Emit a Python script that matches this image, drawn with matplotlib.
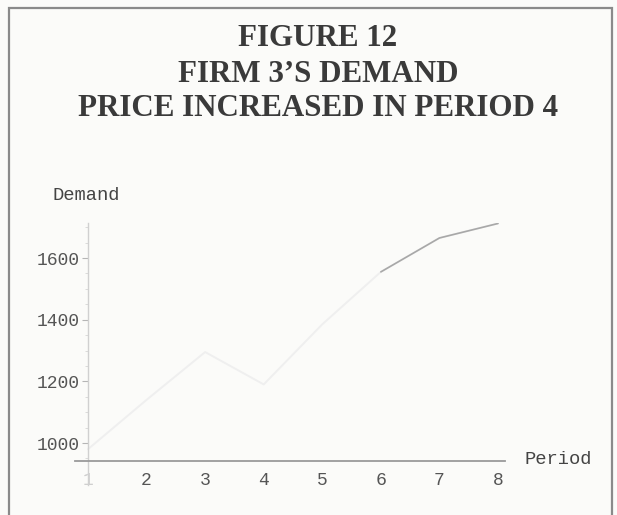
import matplotlib
matplotlib.use("Agg")
import matplotlib.pyplot as plt
from matplotlib.patches import Rectangle
from matplotlib.ticker import MultipleLocator

periods = [1, 2, 3, 4, 5, 6, 7, 8]
demand = [980, 1140, 1295, 1190, 1385, 1555, 1665, 1712]
x_ticks = [1, 2, 3, 4, 5, 6, 7, 8]
x_tick_labels = ["1", "2", "3", "4", "5", "6", "7", "8"]
y_ticks = [1000, 1200, 1400, 1600]
y_tick_labels = ["1000", "1200", "1400", "1600"]
title_lines = ["FIGURE 12", "FIRM 3\u2019S DEMAND", "PRICE INCREASED IN PERIOD 4"]

W, H = 617, 515
fig = plt.figure(figsize=(W / 100, H / 100), dpi=100)
fig.patch.set_facecolor("#fbfbf9")

# page border
fig.patches.append(Rectangle((9 / W, -0.05), (612 - 9) / W, (H - 8) / H + 0.05,
                             transform=fig.transFigure, fill=False,
                             edgecolor="#8a8a8a", linewidth=1.6))

# title
serif = ["Liberation Serif", "DejaVu Serif"]
ys = [39, 74, 108]
for t, yy in zip(title_lines, ys):
    fig.text(318 / W, 1 - yy / H, t, ha="center", va="center",
             family=serif, fontweight="bold", fontsize=22.3, color="#3a3a3a")

# axes: left pixel 75, right 505; bottom 485, top 223
ax = fig.add_axes([75 / W, (H - 485) / H, (505 - 75) / W, (485 - 223) / H])
ax.set_facecolor("none")
ppx = 58.57
ax.set_xlim(1 - 13 / ppx, 1 + (505 - 88) / ppx)
ppy = 0.3083
ax.set_ylim(1000 - (485 - 443) / ppy, 1000 + (443 - 223) / ppy)
x_axis_val = 1000 - (461 - 443) / ppy

for s in ["top", "right"]:
    ax.spines[s].set_visible(False)
ax.spines["left"].set_position(("data", 1))
ax.spines["bottom"].set_position(("data", x_axis_val))
ax.spines["left"].set_color("#d0d0d0")
ax.spines["bottom"].set_color("#9a9a9a")
ax.spines["left"].set_linewidth(1.0)
ax.spines["bottom"].set_linewidth(1.3)

mono = ["Liberation Mono", "DejaVu Sans Mono"]
ax.set_xticks(x_ticks)
ax.set_xticklabels(x_tick_labels, family=mono, fontsize=13, color="#555555")
ax.get_xticklabels()[0].set_color("#cfcfcf")
ax.set_yticks(y_ticks)
ax.set_yticklabels(y_tick_labels, family=mono, fontsize=13, color="#555555")
ax.yaxis.set_minor_locator(MultipleLocator(50))
ax.tick_params(axis="x", length=0, pad=8)
ax.tick_params(axis="y", which="major", length=4, color="#b5b5b5", pad=2)
ax.tick_params(axis="y", which="minor", length=2, color="#d5d5d5")

# line: faint overall, darker where the print is visible
ax.plot(periods, demand, color="#efefef", linewidth=1.4, solid_capstyle="round")
ax.plot(periods[5:], demand[5:], color="#a8a8a8", linewidth=1.2, solid_capstyle="round")

fig.text(52 / W, 1 - 195 / H, "Demand", family=mono, fontsize=13.5, color="#444444",
         ha="left", va="center")
fig.text(525 / W, 1 - 460 / H, "Period", family=mono, fontsize=13.5, color="#444444",
         ha="left", va="center")

fig.savefig("out.png", dpi=100, facecolor=fig.get_facecolor())
